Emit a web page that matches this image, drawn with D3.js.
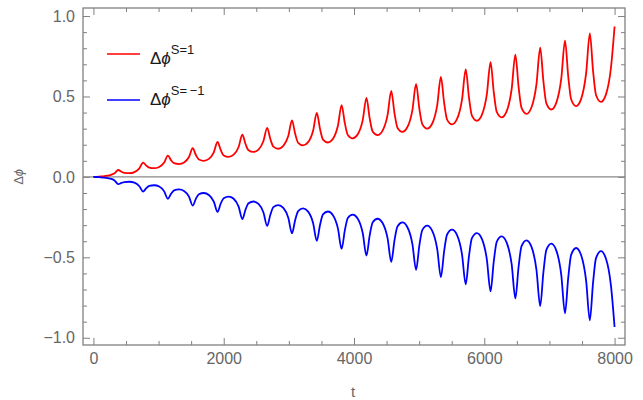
<!DOCTYPE html>
<html>
<head>
<meta charset="utf-8">
<script src="https://cdn.jsdelivr.net/npm/d3@7"></script>
<style>
  body { margin: 0; background: #fff; }
  svg { display: block; }
</style>
</head>
<body>
<div id="chart"></div>
<script>
// sample times: each period has peak, falling flank, trough, rising flank
var tValues = [
  0, 50, 95, 171, 248, 324,
  381, 431, 476, 552, 629, 705,
  762, 812, 857, 933, 1010, 1086,
  1143, 1193, 1238, 1314, 1391, 1467,
  1524, 1574, 1619, 1695, 1772, 1848,
  1905, 1955, 2000, 2076, 2153, 2229,
  2286, 2336, 2381, 2457, 2534, 2610,
  2667, 2717, 2762, 2838, 2915, 2991,
  3048, 3098, 3143, 3219, 3296, 3372,
  3429, 3479, 3524, 3600, 3677, 3753,
  3810, 3860, 3905, 3981, 4058, 4134,
  4191, 4241, 4286, 4362, 4439, 4515,
  4572, 4622, 4667, 4743, 4820, 4896,
  4953, 5003, 5048, 5124, 5201, 5277,
  5334, 5384, 5429, 5505, 5582, 5658,
  5715, 5765, 5810, 5886, 5963, 6039,
  6096, 6146, 6191, 6267, 6344, 6420,
  6477, 6527, 6572, 6648, 6725, 6801,
  6858, 6908, 6953, 7029, 7106, 7182,
  7239, 7289, 7334, 7410, 7487, 7563,
  7620, 7670, 7715, 7791, 7868, 7944,
  8000
];

// Δϕ for S = 1
var redValues = [
  0, 0.0005, 0.002, 0.005, 0.010, 0.022,
  0.043, 0.032, 0.025, 0.023, 0.030, 0.053,
  0.089, 0.070, 0.058, 0.054, 0.062, 0.089,
  0.132, 0.103, 0.085, 0.080, 0.090, 0.124,
  0.178, 0.135, 0.108, 0.100, 0.112, 0.153,
  0.217, 0.166, 0.133, 0.124, 0.138, 0.186,
  0.262, 0.203, 0.166, 0.155, 0.170, 0.223,
  0.305, 0.234, 0.188, 0.175, 0.193, 0.254,
  0.351, 0.266, 0.212, 0.196, 0.216, 0.287,
  0.398, 0.297, 0.232, 0.214, 0.237, 0.318,
  0.446, 0.333, 0.261, 0.240, 0.265, 0.353,
  0.491, 0.364, 0.283, 0.260, 0.288, 0.384,
  0.535, 0.395, 0.306, 0.280, 0.310, 0.414,
  0.578, 0.425, 0.328, 0.300, 0.332, 0.445,
  0.621, 0.459, 0.356, 0.326, 0.360, 0.480,
  0.669, 0.493, 0.381, 0.349, 0.386, 0.513,
  0.714, 0.525, 0.404, 0.370, 0.409, 0.546,
  0.760, 0.558, 0.429, 0.392, 0.433, 0.577,
  0.803, 0.592, 0.457, 0.419, 0.462, 0.612,
  0.847, 0.623, 0.481, 0.440, 0.485, 0.643,
  0.892, 0.658, 0.509, 0.466, 0.513, 0.677,
  0.935
];

// Δϕ for S = -1
var blueValues = [
  0, -0.0005, -0.002, -0.005, -0.010, -0.022,
  -0.045, -0.037, -0.032, -0.030, -0.036, -0.058,
  -0.091, -0.070, -0.056, -0.052, -0.060, -0.090,
  -0.136, -0.104, -0.084, -0.078, -0.088, -0.123,
  -0.178, -0.135, -0.108, -0.100, -0.112, -0.153,
  -0.217, -0.165, -0.132, -0.122, -0.136, -0.185,
  -0.262, -0.202, -0.164, -0.153, -0.168, -0.221,
  -0.305, -0.234, -0.188, -0.175, -0.193, -0.254,
  -0.351, -0.266, -0.212, -0.196, -0.216, -0.287,
  -0.398, -0.297, -0.233, -0.215, -0.238, -0.320,
  -0.448, -0.331, -0.256, -0.235, -0.260, -0.349,
  -0.489, -0.363, -0.283, -0.260, -0.287, -0.381,
  -0.528, -0.393, -0.308, -0.283, -0.313, -0.416,
  -0.578, -0.427, -0.331, -0.303, -0.335, -0.447,
  -0.623, -0.461, -0.358, -0.328, -0.362, -0.481,
  -0.668, -0.493, -0.381, -0.349, -0.385, -0.512,
  -0.712, -0.524, -0.404, -0.370, -0.409, -0.543,
  -0.755, -0.557, -0.430, -0.394, -0.435, -0.578,
  -0.803, -0.590, -0.454, -0.415, -0.458, -0.610,
  -0.848, -0.625, -0.483, -0.442, -0.487, -0.645,
  -0.892, -0.656, -0.505, -0.462, -0.509, -0.674,
  -0.933
];

var xMajor = [0, 2000, 4000, 6000, 8000];
var xMinor = [500, 1000, 1500, 2500, 3000, 3500, 4500, 5000, 5500, 6500, 7000, 7500];
var yMajor = [-1, -0.5, 0, 0.5, 1];
var yMinor = [-0.9, -0.8, -0.7, -0.6, -0.4, -0.3, -0.2, -0.1, 0.1, 0.2, 0.3, 0.4, 0.6, 0.7, 0.8, 0.9];
var legendSup = ["S=1", "S=\u2009\u22121"];

var width = 643, height = 400;
var frame = {left: 83, right: 625, top: 8, bottom: 345};
var frameColor = "#808080", labelColor = "#666";

var svg = d3.select("#chart")
  .append("svg")
    .attr("width", width)
    .attr("height", height)
    .style("font-family", "'Liberation Sans', Arial, sans-serif");

var x = d3.scaleLinear()
    .domain([-160, 8160])
    .range([frame.left, frame.right]);
var y = d3.scaleLinear()
    .domain([-1.045, 1.05])
    .range([frame.bottom, frame.top]);

// frame ticks point inward on all four sides
function styleAxis(g) {
  g.select(".domain").remove();
  g.selectAll(".tick line").attr("stroke", frameColor);
  g.selectAll(".tick text")
    .attr("fill", labelColor)
    .style("font-size", "16px");
}

svg.append("g")
    .attr("transform", `translate(0,${frame.bottom})`)
    .call(d3.axisBottom(x).tickValues(xMajor).tickSize(-7).tickPadding(8).tickFormat(d3.format("d")))
    .call(styleAxis);
svg.append("g")
    .attr("transform", `translate(0,${frame.bottom})`)
    .call(d3.axisBottom(x).tickValues(xMinor).tickSize(-4).tickFormat(""))
    .call(styleAxis);
svg.append("g")
    .attr("transform", `translate(0,${frame.top})`)
    .call(d3.axisTop(x).tickValues(xMajor).tickSize(-7).tickFormat(""))
    .call(styleAxis);
svg.append("g")
    .attr("transform", `translate(0,${frame.top})`)
    .call(d3.axisTop(x).tickValues(xMinor).tickSize(-4).tickFormat(""))
    .call(styleAxis);

svg.append("g")
    .attr("transform", `translate(${frame.left},0)`)
    .call(d3.axisLeft(y).tickValues(yMajor).tickSize(-7).tickPadding(8).tickFormat(d3.format(".1f")))
    .call(styleAxis);
svg.append("g")
    .attr("transform", `translate(${frame.left},0)`)
    .call(d3.axisLeft(y).tickValues(yMinor).tickSize(-4).tickFormat(""))
    .call(styleAxis);
svg.append("g")
    .attr("transform", `translate(${frame.right},0)`)
    .call(d3.axisRight(y).tickValues(yMajor).tickSize(-7).tickFormat(""))
    .call(styleAxis);
svg.append("g")
    .attr("transform", `translate(${frame.right},0)`)
    .call(d3.axisRight(y).tickValues(yMinor).tickSize(-4).tickFormat(""))
    .call(styleAxis);

// zero axis
svg.append("line")
    .attr("x1", frame.left).attr("x2", frame.right)
    .attr("y1", y(0)).attr("y2", y(0))
    .attr("stroke", "#888")
    .attr("stroke-width", 1.2);

var line = d3.line()
    .x((d, i) => x(tValues[i]))
    .y(d => y(d))
    .curve(d3.curveMonotoneX);

svg.append("path")
    .datum(redValues)
    .attr("fill", "none")
    .attr("stroke", "#ff0000")
    .attr("stroke-width", 1.8)
    .attr("stroke-linejoin", "round")
    .attr("d", line);

svg.append("path")
    .datum(blueValues)
    .attr("fill", "none")
    .attr("stroke", "#0000ff")
    .attr("stroke-width", 1.8)
    .attr("stroke-linejoin", "round")
    .attr("d", line);

// frame
svg.append("rect")
    .attr("x", frame.left).attr("y", frame.top)
    .attr("width", frame.right - frame.left)
    .attr("height", frame.bottom - frame.top)
    .attr("fill", "none")
    .attr("stroke", frameColor)
    .attr("stroke-width", 1.3);

// axis labels
svg.append("text")
    .attr("x", (frame.left + frame.right) / 2 - 1)
    .attr("y", 397)
    .attr("text-anchor", "middle")
    .attr("fill", labelColor)
    .style("font-size", "15px")
    .text("t");

svg.append("text")
    .attr("transform", `translate(23,${y(0)}) rotate(-90)`)
    .attr("text-anchor", "middle")
    .attr("fill", labelColor)
    .style("font-size", "13px")
    .call(t => t.append("tspan").text("Δ"))
    .call(t => t.append("tspan").style("font-style", "italic").text("ϕ"));

// legend
var legend = [
  {color: "#ff0000", lineY: 54, textY: 64, sup: legendSup[0]},
  {color: "#0000ff", lineY: 100, textY: 105, sup: legendSup[1]}
];
legend.forEach(function(d) {
  svg.append("line")
      .attr("x1", 107).attr("x2", 140)
      .attr("y1", d.lineY).attr("y2", d.lineY)
      .attr("stroke", d.color)
      .attr("stroke-width", 1.5);
  var t = svg.append("text")
      .attr("x", 150)
      .attr("y", d.textY)
      .attr("fill", "#1a1a1a")
      .style("font-size", "17px");
  t.append("tspan").text("Δ");
  t.append("tspan").style("font-style", "italic").text("ϕ");
  t.append("tspan")
      .attr("dy", "-0.8em")
      .style("font-size", "13px")
      .text(d.sup);
});
</script>
</body>
</html>
